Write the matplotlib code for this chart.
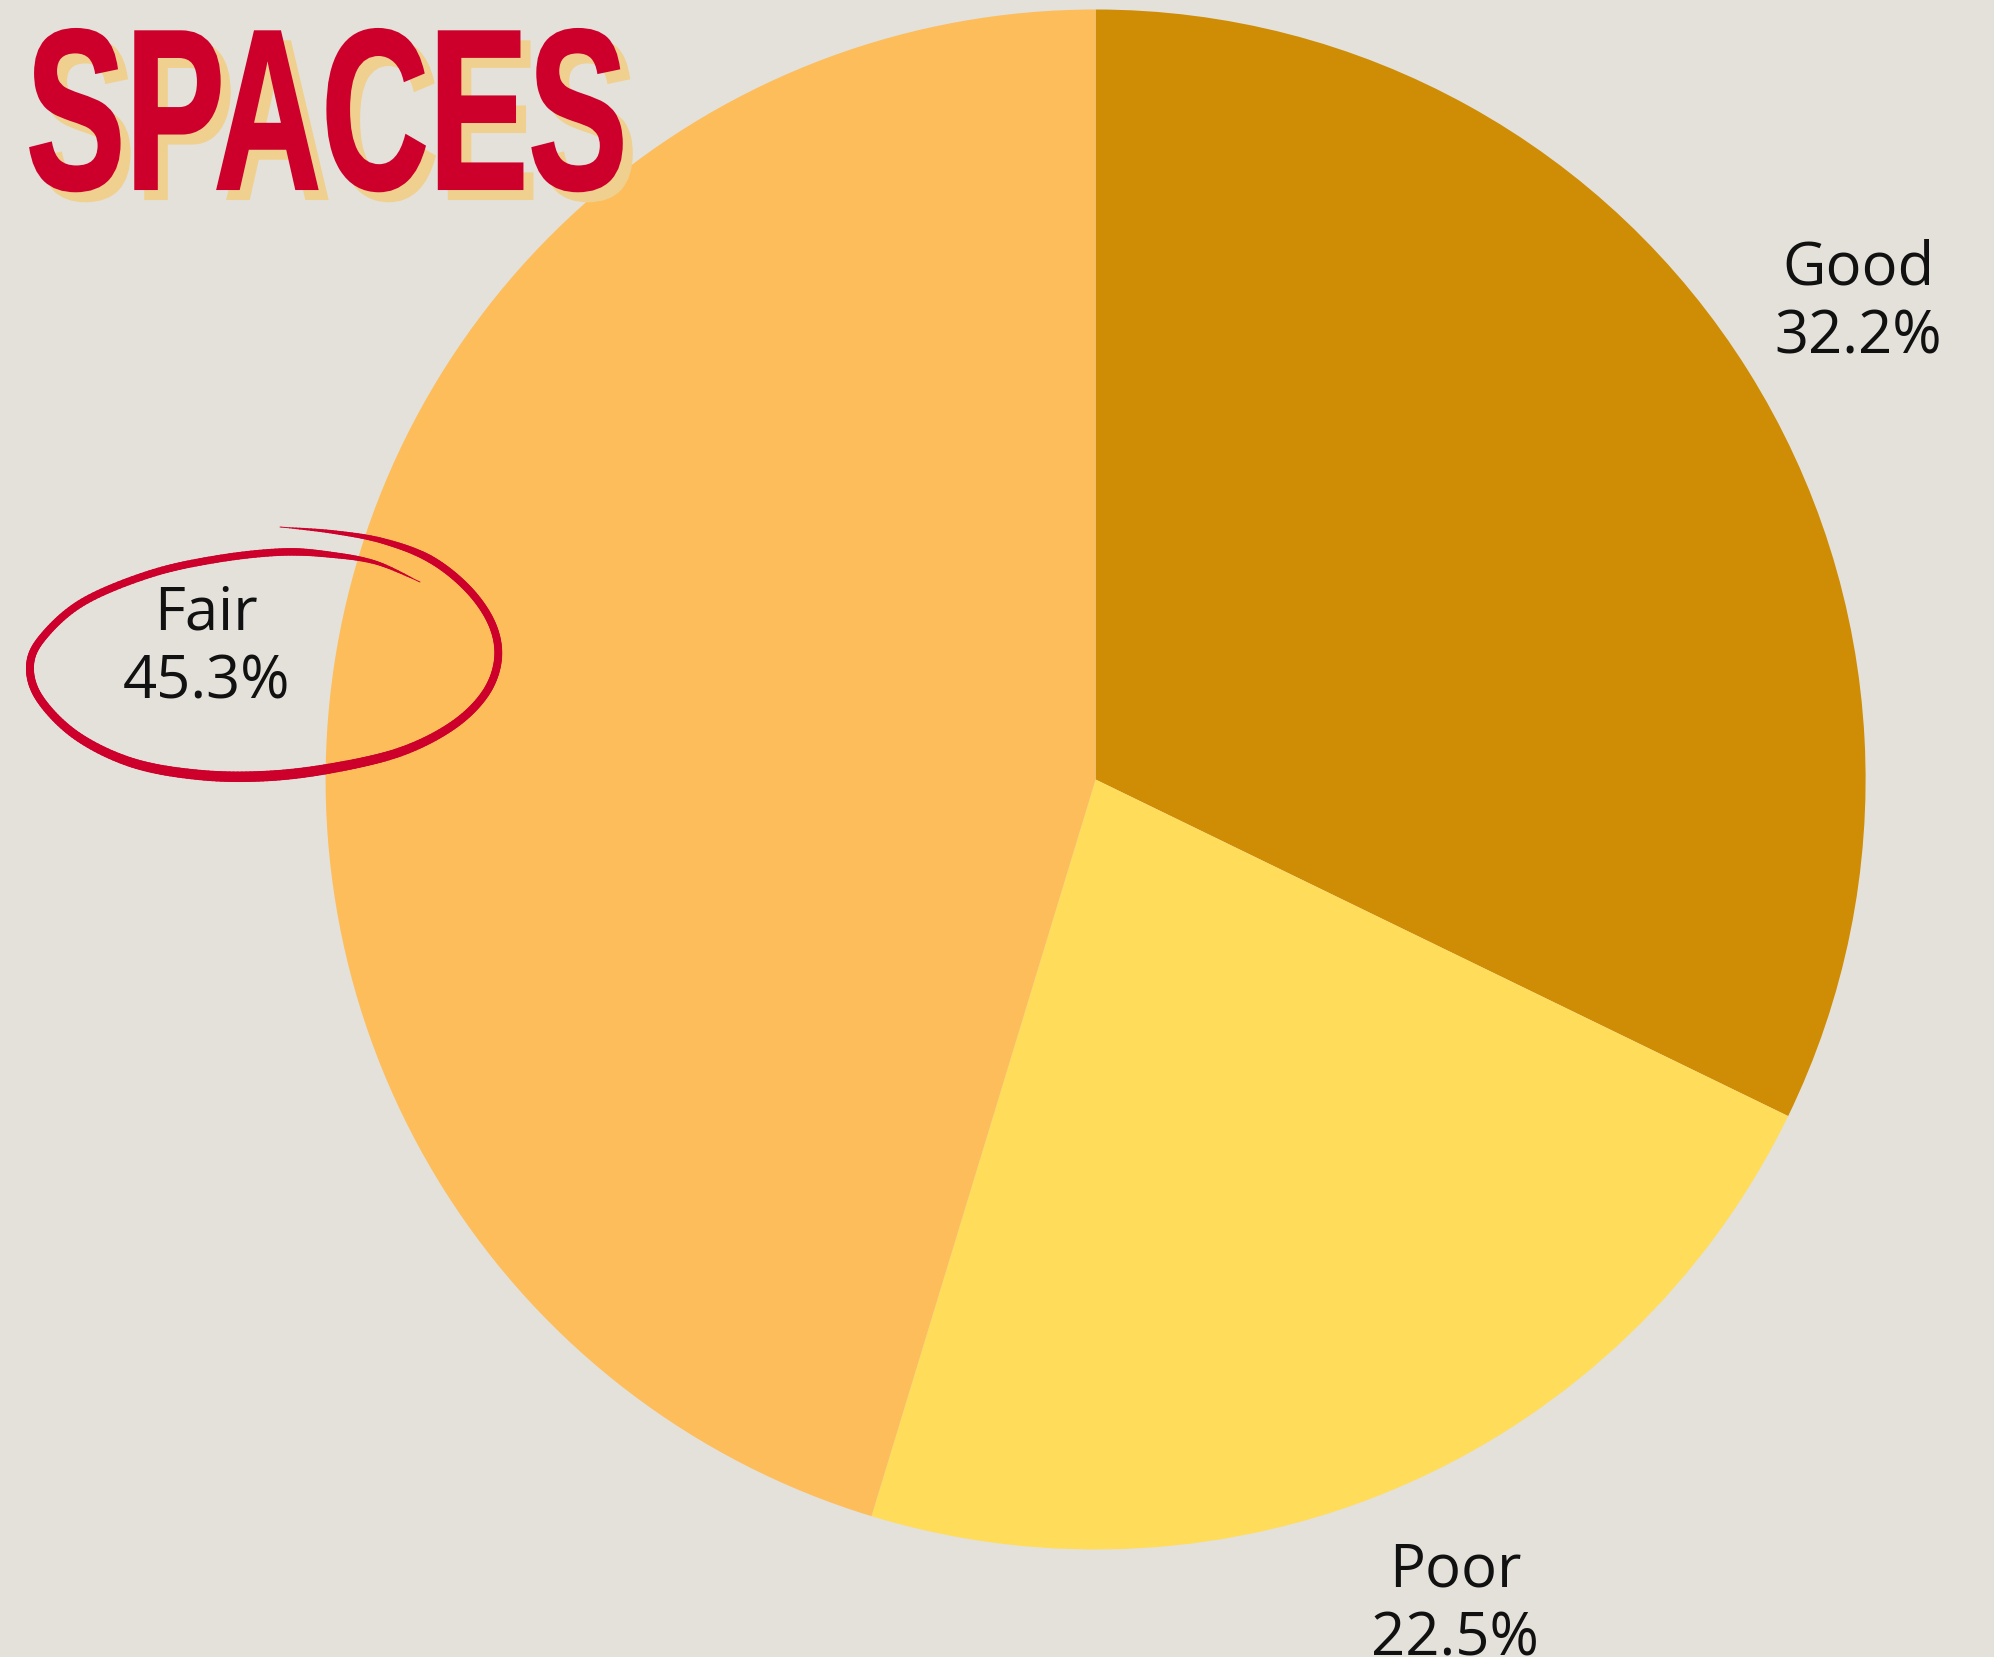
import numpy as np
import matplotlib
matplotlib.use("Agg")
import matplotlib.pyplot as plt
from matplotlib.collections import LineCollection
from matplotlib.patheffects import AbstractPathEffect
from matplotlib.transforms import Affine2D
from matplotlib.colors import to_rgba

# ---- data ----
categories = ["Good", "Poor", "Fair"]
shares = [32.2, 22.5, 45.3]
slice_colors = ["#CF8C05", "#FFDC5A", "#FDBD5B"]
title_text = "SPACES"

BG = "#E4E1DA"
RED = "#CC002B"
SHADOW = "#F0D08F"

W, H = 1994, 1658
fig = plt.figure(figsize=(W / 100, H / 100), dpi=100, facecolor=BG)
ax = fig.add_axes([0, 0, 1, 1])
ax.set_facecolor(BG)

labels = [f"{c}\n{v:.1f}%" for c, v in zip(categories, shares)]
wedges, texts = ax.pie(shares, colors=slice_colors, startangle=90, counterclock=False,
                       center=(1095.6, H - 780.5), radius=770,
                       labels=labels, labeldistance=1.168,
                       textprops=dict(family=["Open Sans", "DejaVu Sans"], fontsize=43,
                                      color="#111111", linespacing=1.2),
                       wedgeprops=dict(linewidth=0))
for t in texts:
    t.set_ha("center")
    t.set_va("center")
    t.set_clip_on(False)

ax.set_xlim(0, W)
ax.set_ylim(0, H)
ax.set_aspect("equal")
ax.axis("off")


# ---- title with condensed glyphs and offset shadow ----
class Squeeze(AbstractPathEffect):
    def __init__(self, sx, layers, lw):
        super().__init__()
        self.sx = sx
        self.layers = layers
        self.lw = lw

    def draw_path(self, renderer, gc, tpath, affine, rgbFace=None):
        for dx, dy, color in self.layers:
            gc0 = renderer.new_gc()
            gc0.copy_properties(gc)
            gc0.set_foreground(color)
            gc0.set_linewidth(self.lw)
            gc0.set_joinstyle("miter")
            tr = Affine2D().scale(self.sx, 1) + affine + Affine2D().translate(dx, -dy)
            renderer.draw_path(gc0, tpath, tr, to_rgba(color))
            gc0.restore()


ax.text(26, H - 190, title_text, ha="left", va="baseline",
        family=["Liberation Sans", "DejaVu Sans"], weight="bold",
        fontsize=165, color=RED, zorder=10,
        path_effects=[Squeeze(0.65, [(10, 10, SHADOW), (0, 0, RED)], 1.5)])

# ---- hand-drawn loop around the Fair label (pixel coords, y down) ----
loop_px = np.array([
    (280, 528), (333, 533), (383, 542), (430, 560), (468, 590), (492, 625),
    (498, 660), (485, 695), (452, 727), (400, 753), (333, 769), (267, 777),
    (200, 776), (133, 764), (77, 737), (40, 700), (30, 667), (43, 638),
    (83, 603), (150, 575), (217, 560), (283, 553), (333, 556), (377, 564),
    (420, 583)], dtype=float)


def catmull(pts, n=16):
    p = np.vstack([pts[0], pts, pts[-1]])
    out = []
    for i in range(1, len(p) - 2):
        p0, p1, p2, p3 = p[i - 1], p[i], p[i + 1], p[i + 2]
        for t in np.linspace(0, 1, n, endpoint=False):
            t2, t3 = t * t, t * t * t
            out.append(0.5 * ((2 * p1) + (-p0 + p2) * t + (2 * p0 - 5 * p1 + 4 * p2 - p3) * t2
                              + (-p0 + 3 * p1 - 3 * p2 + p3) * t3))
    out.append(p[-2])
    return np.array(out)


curve = catmull(loop_px)
curve[:, 1] = H - curve[:, 1]
segs = np.stack([curve[:-1], curve[1:]], axis=1)
d = np.r_[0, np.cumsum(np.hypot(*np.diff(curve, axis=0).T))]
s = (d[:-1] + d[1:]) / 2 / d[-1]
body = 7.5 + 3.0 * np.exp(-((s - 0.45) / 0.15) ** 2)
width_px = body * np.clip(np.minimum(s / 0.12, (1 - s) / 0.10), 0.05, 1.0) ** 0.7
lc = LineCollection(segs, colors=RED, linewidths=width_px * 0.72, capstyle="round", zorder=8)
ax.add_collection(lc)

fig.savefig("out.png", dpi=100, facecolor=BG)
